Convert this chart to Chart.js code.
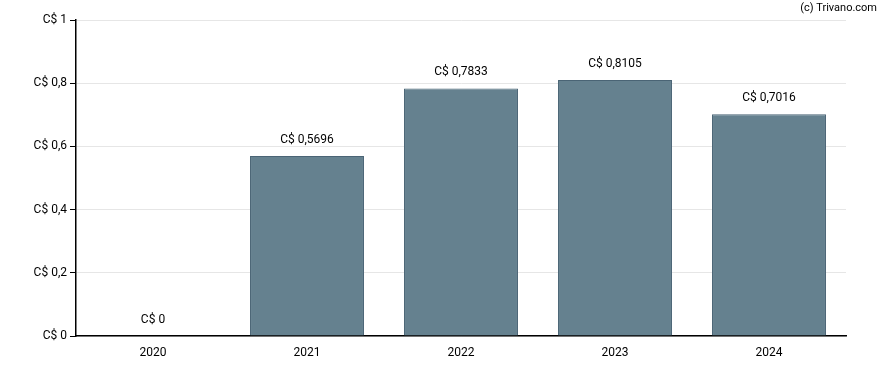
<!DOCTYPE html>
<html><head><meta charset="utf-8">
<script src="https://cdn.jsdelivr.net/npm/chart.js@4"></script>
<style>html,body{margin:0;padding:0;background:#fff}#w{width:888px;height:370px;position:relative}</style>
</head><body><div id="w"><canvas id="c"></canvas></div>
<script>
const categories = ["2020","2021","2022","2023","2024"];
const values = [0, 0.5696, 0.7833, 0.8105, 0.7016];
const valueLabels = ["C$ 0","C$ 0,5696","C$ 0,7833","C$ 0,8105","C$ 0,7016"];
const yTicks = [0,0.2,0.4,0.6,0.8,1];
const yTickLabels = ["C$ 0","C$ 0,2","C$ 0,4","C$ 0,6","C$ 0,8","C$ 1"];

const FONT = "Roboto, 'Liberation Sans', sans-serif";
const labelPlugin = {
  id:'lbl',
  afterDatasetsDraw(chart){
    const ctx = chart.ctx; const meta = chart.getDatasetMeta(0);
    ctx.save(); ctx.font = "12px "+FONT; ctx.fillStyle="#000"; ctx.textAlign="center"; ctx.textBaseline="bottom";
    meta.data.forEach((b,i)=>{ ctx.fillText(valueLabels[i], b.x, b.y-10); });
    ctx.font = "11px "+FONT; ctx.textAlign="right"; ctx.textBaseline="middle";
    ctx.fillText("(c) Trivano.com", 877, 8);
    ctx.restore();
  }
};
new Chart(document.getElementById('c'),{
  type:'bar',
  data:{labels:categories,datasets:[{data:values,backgroundColor:'#65818f',borderColor:'#4a6475',borderWidth:1,barPercentage:0.74,categoryPercentage:1}]},
  options:{
    responsive:true,maintainAspectRatio:false,animation:false,
    layout:{padding:{top:20,right:42,left:0,bottom:0}},
    plugins:{legend:{display:false},tooltip:{enabled:false}},
    scales:{
      x:{grid:{display:false,drawTicks:true,tickLength:6},border:{color:'#000',width:1.5},
         ticks:{color:'#000',font:{family:FONT,size:12},padding:4},
         afterFit(s){s.height=34;}},
      y:{min:0,max:1,
         afterBuildTicks(s){s.ticks=yTicks.map(v=>({value:v}));},
         grid:{color:'#e6e6e6',tickLength:6,tickColor:'#000'},border:{color:'#000',width:1.5},
         ticks:{color:'#000',font:{family:FONT,size:12},padding:3,callback:(v)=>yTickLabels[yTicks.indexOf(v)]},
         afterFit(s){s.width=76;}}
    }
  },
  plugins:[labelPlugin]
});
</script></body></html>
